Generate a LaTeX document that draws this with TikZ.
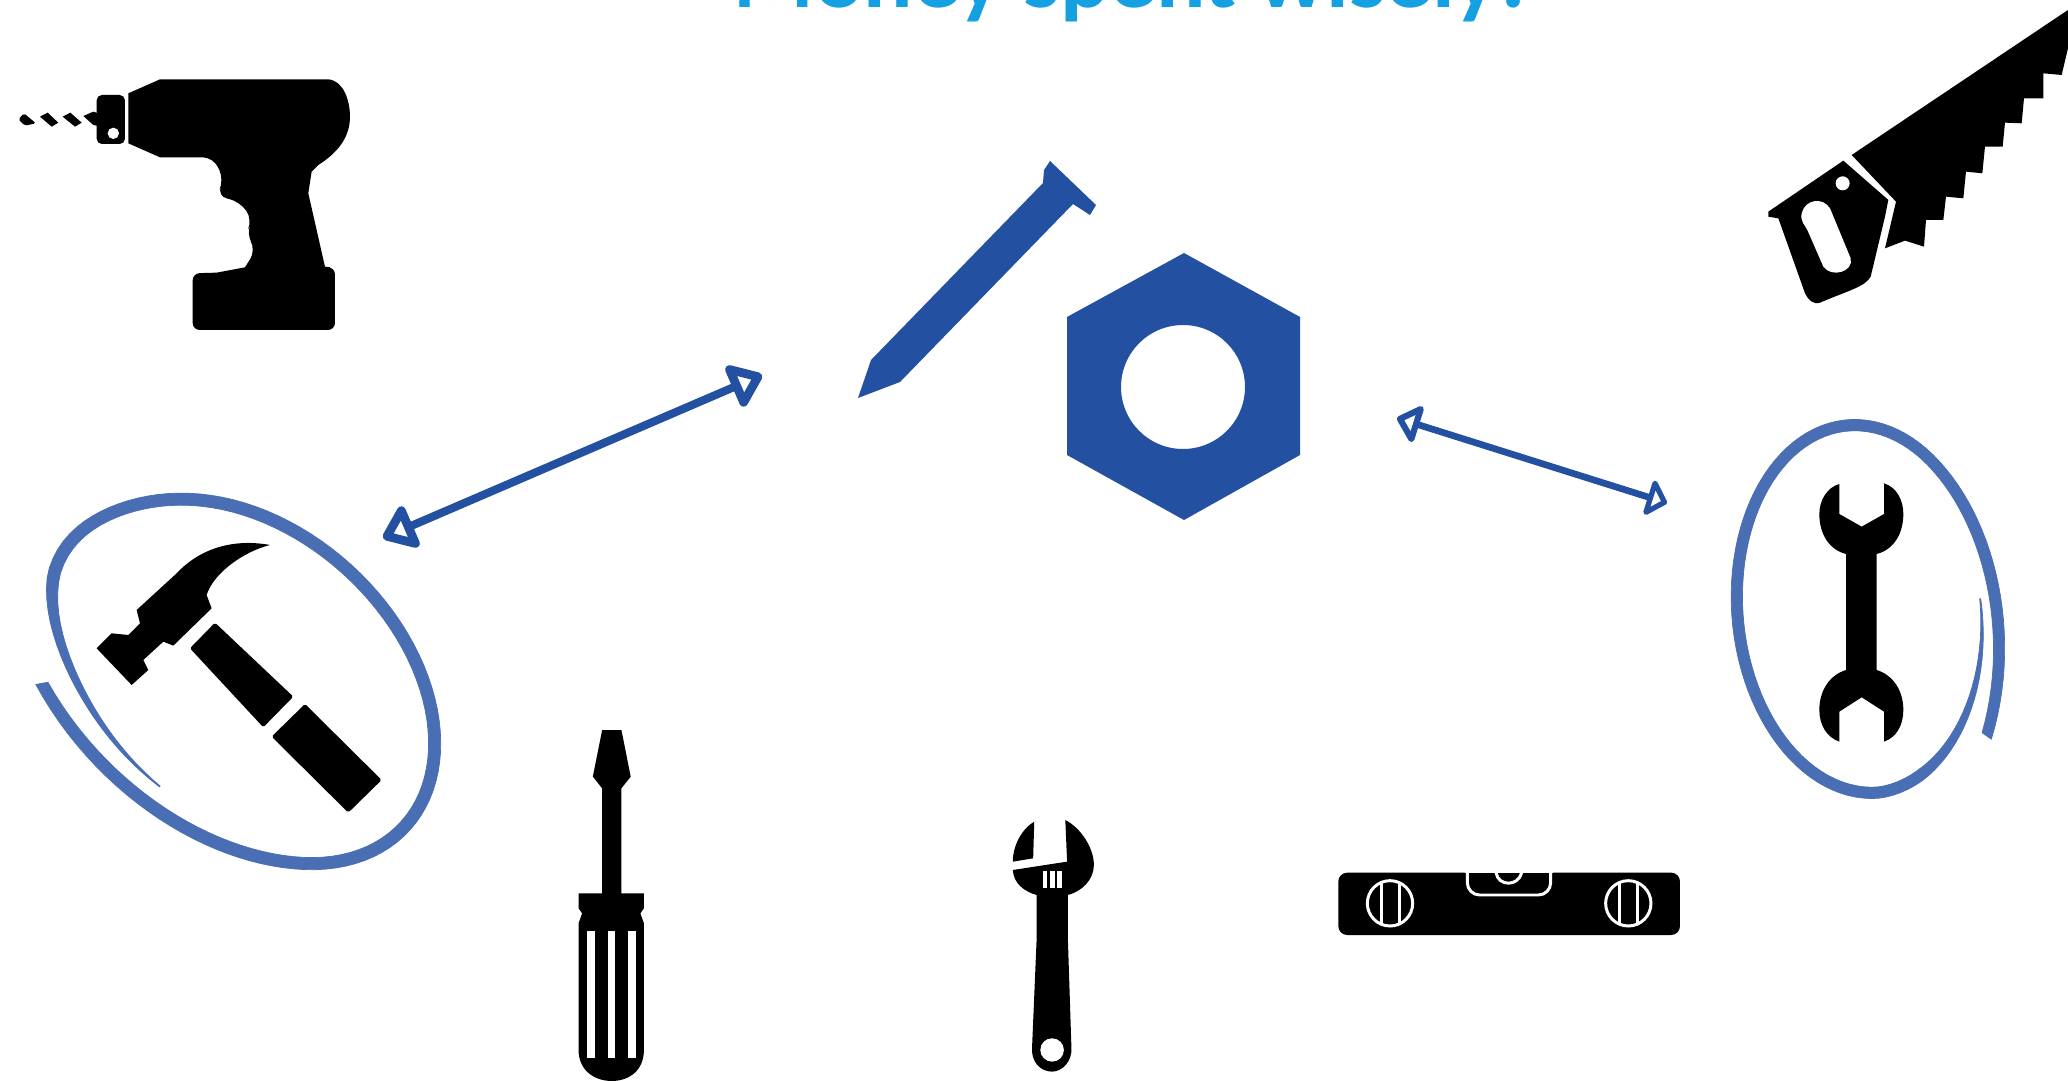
\documentclass[tikz,border=0pt]{standalone}
\usepackage{fontspec}
\setmainfont{Carlito}
\usepackage{xcolor}
\usetikzlibrary{arrows.meta}
\definecolor{titleblue}{RGB}{20,160,225}
\definecolor{nutblue}{RGB}{35,80,160}
\definecolor{ringblue}{RGB}{74,110,180}
% one side of a hand-drawn loop: joiner, from, to, sign of the side
\newcommand{\loopside}[4]{#1 plot[domain=#2:#3, samples=120]
  ({\lcx+(\la*loopr(\x)+#4*loopw(\x)/2)*cos(\x)*cos(\ltilt)-(\lb*loopr(\x)+#4*loopw(\x)/2)*sin(\x)*sin(\ltilt)},
   {\lcy+(\la*loopr(\x)+#4*loopw(\x)/2)*cos(\x)*sin(\ltilt)+(\lb*loopr(\x)+#4*loopw(\x)/2)*sin(\x)*cos(\ltilt)})}

\begin{document}
\begin{tikzpicture}[
    x=0.02cm, y=-0.02cm,
    tool/.style={fill=black},
    cut/.style={fill=white},
    slit/.style={draw=white, line width=1.7pt},
    metal/.style={fill=nutblue},
    ring/.style={fill=ringblue, draw=ringblue, line width=0.4pt, line join=round},
    twoway/.style={{Triangle[open,round,length=20pt,width=29pt,line width=5.5pt]}-{Triangle[open,round,length=20pt,width=29pt,line width=5.5pt]}, draw=nutblue, line width=4.6pt},
    twowaysmall/.style={{Triangle[open,round,length=14pt,width=25pt,line width=4.4pt]}-{Triangle[open,round,length=12pt,width=24pt,line width=4.2pt]}, draw=nutblue, line width=3.8pt}]

  \useasboundingbox (0,0) rectangle (2068,1081);
  \fill[white] (0,0) rectangle (2068,1081);

  \node[anchor=base, text=titleblue, font=\fontsize{52.5}{55}\selectfont\bfseries, inner sep=0pt] (title) at (1131,8) {Money spent wisely!};

  % drill
  \begin{scope}[shift={(0,60)}, xscale=0.3333, yscale=0.3333]
    \fill[tool] (385,100) -- (480,58) -- (985,58) .. controls (1030,62) and (1050,120) .. (1050,170)
      .. controls (1050,235) and (1010,280) .. (955,315) -- (935,335) -- (925,400) -- (975,620) -- (990,622)
      [rounded corners=4pt] -- (1005,622) -- (1005,810) -- (578,810) -- (578,640) [sharp corners] -- (650,638) -- (735,622)
      [rounded corners=6pt] -- (768,570) -- (738,520) -- (758,480) -- (720,425) -- (650,408) -- (672,360) -- (640,292) [sharp corners]
      -- (480,292) -- (385,250) -- cycle;
    \fill[tool, rounded corners=3pt] (290,105) -- (375,105) -- (375,252) -- (290,252) -- cycle;
    \fill[cut] (340,220) circle (17);
    \fill[tool, rounded corners=1pt] (55,178) -- (72,160) -- (108,190) -- (75,197) -- cycle;
    \fill[tool] (120,170) -- (143,158) -- (175,188) -- (155,200) -- cycle;
    \fill[tool] (188,170) -- (211,158) -- (245,188) -- (225,200) -- cycle;
    \fill[tool] (250,168) -- (280,155) -- (295,160) -- (295,198) -- (280,195) -- cycle;
  \end{scope}

  % saw
  \begin{scope}[shift={(1750,0)}, xscale=0.3333, yscale=0.3333]
    \fill[tool] (305,465) -- (954,30) -- (954,145) -- (935,225) -- (880,220) -- (880,295) -- (822,295) -- (815,370)
      -- (765,368) -- (758,440) -- (705,440) -- (697,520) -- (648,515) -- (640,595) -- (588,590) -- (580,660)
      -- (528,660) -- (522,740) -- (465,722) -- (405,745) -- (438,605) -- cycle;
    \fill[tool] (55,635) -- (280,482) -- (415,600) -- (405,650) -- (362,830) .. controls (345,860) and (300,870) .. (210,908)
      .. controls (190,915) and (175,900) .. (165,880) -- (85,655) -- (55,650) -- cycle;
    \fill[cut] (155,640) .. controls (165,598) and (218,590) .. (240,625) -- (302,775) .. controls (312,815) and (245,835) .. (220,800)
      -- (172,690) .. controls (165,675) and (150,665) .. (155,640) -- cycle;
    \fill[cut] (278,550) circle (21);
  \end{scope}

  % hammer and ring
  \begin{scope}[shift={(0,480)}, xscale=0.3333, yscale=0.3333,
      declare function={
        bump(\t)=0.07*exp(-((\t+198)/30)*((\t+198)/30));
        loopr(\t)=0.955+bump(\t)+0.175*max(0,(\t-40)/87)*max(0,(\t-40)/87)-0.08*max(0,(-200-\t)/72);
        loopw(\t)=3+34*min(1,(\t+272)/70);}]
    \def\lcx{745}\def\lcy{605}\def\la{670}\def\lb{470}\def\ltilt{43}
    \fill[tool] (810,195) .. controls (700,175) and (600,205) .. (530,280) -- (410,390) -- (420,430) -- (385,465) -- (335,460)
      -- (290,505) -- (395,615) -- (445,570) -- (430,540) -- (490,485) -- (520,497) -- (635,385) -- (620,345)
      .. controls (640,280) and (730,215) .. (810,195) -- cycle;
    \fill[tool, rounded corners=1pt] (645,428) -- (880,650) -- (790,742) -- (570,505) -- cycle;
    \fill[tool, rounded corners=1pt] (915,672) -- (1145,900) -- (1045,998) -- (815,770) -- cycle;
    \filldraw[ring] \loopside{}{126.5}{-272}{1} \loopside{--}{-272}{126.5}{-1} -- cycle;
  \end{scope}

  % spanner and ring
  \begin{scope}[shift={(1720,410)}, xscale=0.3333, yscale=0.3333,
      declare function={
        loopr(\t)=0.945+0.15*max(0,(\t+140)/90)*max(0,(\t+140)/90)-0.065*max(0,(-360-\t)/90);
        loopw(\t)=3+31*min(1,(\t+450)/70);}]
    \def\lcx{430}\def\lcy{597}\def\la{585}\def\lb{400}\def\ltilt{85}
    \fill[tool] (358,222) .. controls (322,232) and (298,270) .. (298,312) .. controls (298,375) and (330,420) .. (378,432)
      -- (378,780) .. controls (330,795) and (298,840) .. (298,900) .. controls (298,945) and (320,982) .. (358,995)
      -- (358,905) -- (425,862) -- (492,905) -- (492,995) .. controls (530,982) and (550,945) .. (550,900)
      .. controls (550,840) and (518,795) .. (470,780) -- (470,432) .. controls (518,420) and (550,375) .. (550,312)
      .. controls (550,270) and (530,232) .. (492,220) -- (492,312) -- (425,350) -- (358,312) -- cycle;
    \filldraw[ring] \loopside{}{-50}{-450}{1} \loopside{--}{-450}{-50}{-1} -- cycle;
  \end{scope}

  % screwdriver and adjustable wrench
  \begin{scope}[shift={(560,720)}, xscale=0.3571, yscale=0.3333]
    \fill[tool] (118,30) -- (172,30) -- (198,170) -- (172,205) -- (172,520) -- (235,520) -- (235,565) -- (225,580) -- (235,610)
      -- (235,990) .. controls (235,1050) and (195,1083) .. (145,1083) .. controls (95,1083) and (52,1050) .. (52,990)
      -- (52,610) -- (62,580) -- (52,565) -- (52,520) -- (118,520) -- (118,205) -- (92,170) -- cycle;
    \foreach \x in {76,133,190}
      \fill[cut] (\x,632) rectangle (\x+22,1015);
    \fill[tool] (1328,305) -- (1325,415) -- (1268,425) .. controls (1268,375) and (1295,325) .. (1328,305) -- cycle;
    \fill[tool] (1415,300) .. controls (1460,325) and (1495,385) .. (1495,435) .. controls (1495,480) and (1460,515) .. (1422,525)
      -- (1422,650) -- (1432,980) .. controls (1436,1025) and (1405,1055) .. (1378,1055) .. controls (1345,1055) and (1318,1025) .. (1322,980)
      -- (1335,650) -- (1335,525) .. controls (1300,515) and (1270,490) .. (1268,450) -- (1420,425) -- cycle;
    \fill[cut] (1378,990) ellipse (33 and 35);
    \foreach \x in {1352,1372,1392}
      \fill[cut] (\x,452) rectangle (\x+13,505);
  \end{scope}

  % level
  \begin{scope}[shift={(1320,850)}, xscale=0.3333, yscale=0.3333]
    \fill[tool, rounded corners=5pt] (55,68) rectangle (1080,255);
    \fill[cut] (436,60) rectangle (700,68);
    \draw[slit, rounded corners=7pt] (442,62) -- (442,135) -- (692,135) -- (692,62);
    \draw[slit] (528,68) .. controls (535,110) and (595,110) .. (605,68);
    \foreach \x in {210,925} {
      \draw[slit] (\x,160) circle (68);
      \draw[slit] (\x-27,100) -- (\x-27,220);
      \draw[slit] (\x+27,100) -- (\x+27,220);
    }
  \end{scope}

  % nail and nut
  \fill[metal] (1050,161) -- (1096,205) -- (1090,215) -- (1073,204) -- (900,382) -- (858,398) -- (871,360) -- (1043,183) -- (1044,170) -- cycle;
  \fill[metal, even odd rule] (1184,253) -- (1300,317) -- (1300,455) -- (1184,520) -- (1067,455) -- (1067,317) -- cycle (1183,387) circle (62);

  % arrows
  \coordinate (nailend) at (762,375);
  \coordinate (hammerend) at (383,538);
  \coordinate (nutend) at (1397,418);
  \coordinate (spannerend) at (1667,503);
  \draw[twoway] (hammerend) -- (nailend);
  \draw[twowaysmall] (nutend) -- (spannerend);
\end{tikzpicture}
\end{document}
